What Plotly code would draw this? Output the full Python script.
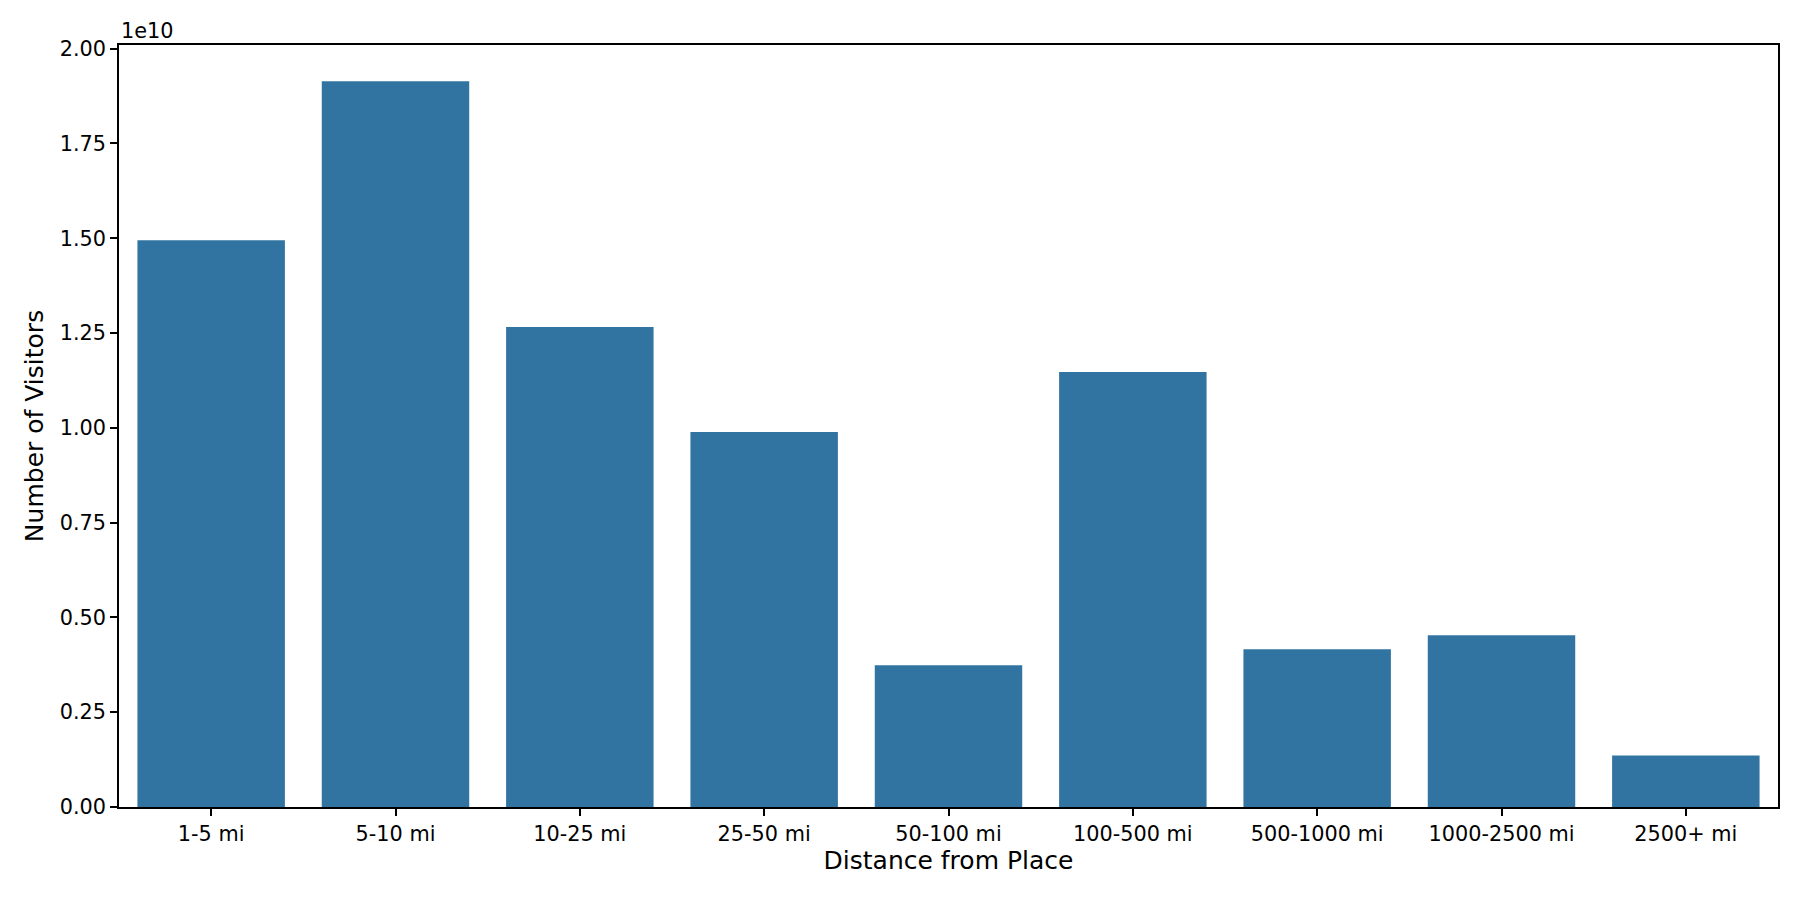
import plotly.graph_objects as go

categories = ["1-5 mi", "5-10 mi", "10-25 mi", "25-50 mi", "50-100 mi",
              "100-500 mi", "500-1000 mi", "1000-2500 mi", "2500+ mi"]
visitors = [1.495e10, 1.914e10, 1.266e10, 0.989e10, 0.374e10,
            1.147e10, 0.416e10, 0.453e10, 0.136e10]
ytick_vals = [0, 0.25e10, 0.5e10, 0.75e10, 1.0e10, 1.25e10, 1.5e10, 1.75e10, 2.0e10]
ytick_text = ["0.00", "0.25", "0.50", "0.75", "1.00", "1.25", "1.50", "1.75", "2.00"]

FONT = "DejaVu Sans"
fig = go.Figure(go.Bar(x=categories, y=visitors, marker_color="#3274a1",
                       marker_line_width=0))

axis_common = dict(showline=True, mirror=True, linecolor="black", linewidth=1.6,
                   ticks="outside", ticklen=7, tickwidth=1.6, tickcolor="black",
                   showgrid=False, zeroline=False,
                   tickfont=dict(family=FONT, size=20.8, color="black"))

fig.update_layout(
    width=1800, height=900,
    margin=dict(l=119, r=22, t=45, b=93),
    paper_bgcolor="white", plot_bgcolor="white",
    bargap=0.2,
    showlegend=False,
    font=dict(family=FONT, color="black"),
    xaxis=dict(**axis_common, range=[-0.5, len(categories) - 0.5],
               title=dict(text="Distance from Place", font=dict(family=FONT, size=25),
                          standoff=6)),
    yaxis=dict(**axis_common, range=[0, 1.05 * max(visitors)],
               tickvals=ytick_vals, ticktext=ytick_text,
               title=dict(text="Number of Visitors", font=dict(family=FONT, size=25),
                          standoff=9)),
    annotations=[dict(text="1e10", x=0, y=1, xref="paper", yref="paper",
                      xanchor="left", yanchor="bottom", yshift=0, showarrow=False,
                      font=dict(family=FONT, size=20.8, color="black"))],
)

fig.write_html("out.html", config={"displayModeBar": False},
               post_script="document.body.style.margin='0px';document.body.style.overflow='hidden';")
